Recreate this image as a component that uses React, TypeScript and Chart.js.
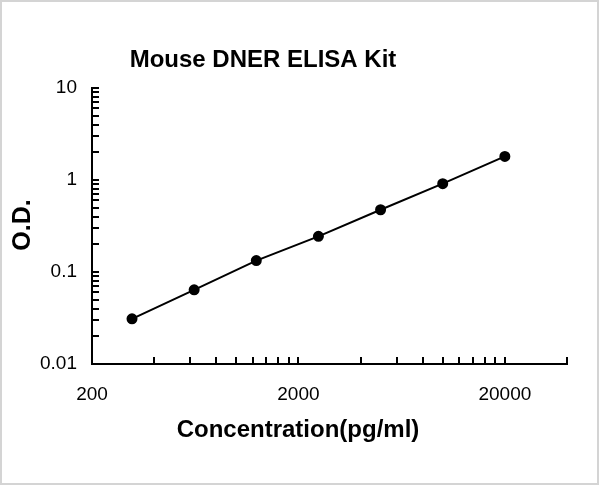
import { Chart, registerables } from "chart.js";
import { useEffect, useRef } from "react";

Chart.register(...registerables);

const title = "Mouse DNER ELISA Kit";
const xTitle = "Concentration(pg/ml)";
const yTitle = "O.D.";

const concentration = [312.5, 625, 1250, 2500, 5000, 10000, 20000];
const od = [0.031, 0.064, 0.133, 0.244, 0.475, 0.912, 1.806];

const xTicks = [
  200, 400, 600, 800, 1000, 1200, 1400, 1600, 1800, 2000, 4000, 6000, 8000,
  10000, 12000, 14000, 16000, 18000, 20000, 40000,
];
const xLabels = [200, 2000, 20000];
const yTicks = [
  0.01, 0.02, 0.03, 0.04, 0.05, 0.06, 0.07, 0.08, 0.09, 0.1, 0.2, 0.3, 0.4,
  0.5, 0.6, 0.7, 0.8, 0.9, 1, 2, 3, 4, 5, 6, 7, 8, 9, 10,
];
const yLabels = [0.01, 0.1, 1, 10];

const FONT = '"Liberation Sans", Arial, sans-serif';

const textPlugin = {
  id: "texts",
  beforeDraw(chart: Chart) {
    const { ctx, width, height } = chart;
    ctx.save();
    ctx.fillStyle = "#fff";
    ctx.fillRect(0, 0, width, height);
    ctx.strokeStyle = "#d4d4d4";
    ctx.lineWidth = 2;
    ctx.strokeRect(1, 1, width - 3, height - 3);
    ctx.restore();
  },
  afterDraw(chart: Chart) {
    const { ctx } = chart;
    ctx.save();
    ctx.fillStyle = "#000";
    ctx.textAlign = "center";
    ctx.textBaseline = "middle";
    ctx.font = `bold 24px ${FONT}`;
    ctx.fillText(title, 263, 60);
    ctx.font = `bold 24px ${FONT}`;
    ctx.fillText(xTitle, 298, 430);
    ctx.font = `bold 25px ${FONT}`;
    ctx.translate(23, 225);
    ctx.rotate(-Math.PI / 2);
    ctx.fillText(yTitle, 0, 0);
    ctx.restore();
  },
};

export default function App() {
  const canvasRef = useRef<HTMLCanvasElement>(null);

  useEffect(() => {
    if (!canvasRef.current) return;
    const ctx = canvasRef.current.getContext("2d");
    if (!ctx) return;

    const chart = new Chart(ctx, {
      type: "scatter",
      data: {
        datasets: [
          {
            data: concentration.map((x, i) => ({ x, y: od[i] })),
            showLine: true,
            borderColor: "#000",
            borderWidth: 2,
            pointRadius: 4.5,
            pointBackgroundColor: "#000",
            pointBorderColor: "#000",
          },
        ],
      },
      options: {
        responsive: false,
        animation: false,
        layout: { padding: { top: 88, right: 33, left: 0, bottom: 0 } },
        plugins: { legend: { display: false }, tooltip: { enabled: false } },
        scales: {
          x: {
            type: "logarithmic",
            min: 200,
            max: 40000,
            afterBuildTicks: (scale) => {
              scale.ticks = xTicks.map((value) => ({ value }));
            },
            afterFit: (scale) => {
              scale.height = 122;
            },
            grid: {
              drawOnChartArea: false,
              color: "#000",
              lineWidth: 2,
              tickLength: -7,
            },
            border: { color: "#000", width: 2 },
            ticks: {
              autoSkip: false,
              maxRotation: 0,
              padding: 26,
              color: "#000",
              font: { family: FONT, size: 19 },
              callback: (v) => (xLabels.includes(Number(v)) ? String(v) : ""),
            },
          },
          y: {
            type: "logarithmic",
            min: 0.01,
            max: 10,
            afterBuildTicks: (scale) => {
              scale.ticks = yTicks.map((value) => ({ value }));
            },
            afterFit: (scale) => {
              scale.width = 92;
            },
            grid: {
              drawOnChartArea: false,
              color: "#000",
              lineWidth: 2,
              tickLength: -7,
            },
            border: { color: "#000", width: 2 },
            ticks: {
              autoSkip: false,
              padding: 22,
              color: "#000",
              font: { family: FONT, size: 19 },
              callback: (v) => (yLabels.includes(Number(v)) ? String(v) : ""),
            },
          },
        },
      },
      plugins: [textPlugin],
    });

    return () => chart.destroy();
  }, []);

  return (
    <div style={{ position: "absolute", left: 0, top: 0, width: 600, height: 486 }}>
      <canvas ref={canvasRef} width={600} height={486} />
    </div>
  );
}
